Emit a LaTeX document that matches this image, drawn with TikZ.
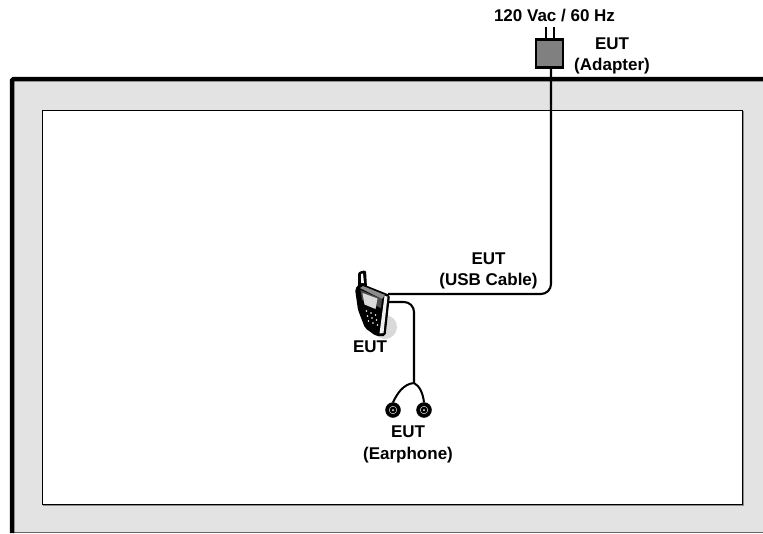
\documentclass[tikz,border=0pt]{standalone}
\usepackage{fontspec}
\setmainfont{Liberation Sans}
\usetikzlibrary{calc}
\tikzset{
 lbl/.style={font=\fontsize{17}{21.3}\selectfont\bfseries,align=center,inner sep=0pt,text=black},
 cable/.style={draw=black,line width=2.1pt,rounded corners=10pt},
 plug/.style={draw=black,line width=2.2pt,fill=black!50,minimum width=27pt,minimum height=28pt,inner sep=0pt},
 bud/.style={circle,draw=black,fill=black,minimum size=15pt,inner sep=0pt},
 thin wire/.style={draw=black,line width=1.4pt}
}
\begin{document}
\begin{tikzpicture}[x=1pt,y=-1pt]
\useasboundingbox (0,0) rectangle (763,533);
% room
\fill[black!11] (12,79) rectangle (763,531.5);
\fill[black!60] (12,531.5) rectangle (763,533);
\draw[line width=4.5pt,line cap=butt] (12,533) -- (12,81) [rounded corners=1.5pt] -- (12,79) -- (763,79);
\draw[fill=white,line width=1pt] (42,110) rectangle (742,504);
\draw[black!45,line width=1pt] (743,111) -- (743,505) -- (43,505);
% adapter
\node[plug] (adapter) at (549.5,53.5) {};
\coordinate (p1) at (546,27);
\coordinate (p2) at (554,27);
\draw[thin wire] (p1) -- (p1 |- adapter.north);
\draw[thin wire] (p2) -- (p2 |- adapter.north);
% phone
\fill[black!15] (385,327) circle (12);
\node[inner sep=0pt,minimum size=1pt] (phone) at (371,305) {};
\coordinate (usbout) at (388,294);
\coordinate (earout) at (388,302);
\fill[black,rounded corners=2.5pt] (358,288) -- (358,272) -- (366,270) -- (367,288) -- cycle;
\fill[white] (361,283) -- (361,274) -- (363,273.5) -- (364,283) -- cycle;
\fill[black,rounded corners=2pt] (355,289) -- (360,283) -- (390,295) -- (385.5,336) -- (376,336) -- (365,328) -- (358,310) -- cycle;
\fill[black!45] (360,288) -- (363,286) -- (385,295) -- (382,299) -- cycle;
\fill[black!6] (384.5,296) -- (387.5,296.5) -- (383.5,333) -- (379.5,333.5) -- cycle;
\fill[black!70] (360.5,290) -- (382,299) -- (381,308) -- (362,300) -- cycle;
\fill[black!15] (362.5,293) -- (377.5,298.5) -- (375.5,309) -- (364.5,304.5) -- cycle;
\foreach \a/\b in {366/310,370.5/312,375/314,367/315,371.5/317,376/319,368/320,372.5/322,377/324}
  \fill[white] (\a+.5,\b+1) circle (.9);
% cables
\draw[cable] (usbout) -- (551,294) -- (551,69);
\node[bud] (b1) at (393,410) {};
\node[bud] (b2) at (424,410) {};
\coordinate (fork) at (414,383);
\draw[cable] (earout) -- (414,302) -- (fork);
\draw[line width=2pt] (fork) .. controls (403,384) and (397,394) .. (b1.north);
\draw[line width=2pt] (fork) .. controls (420,386) and (423,394) .. (b2.north);
\foreach \n in {b1,b2}{
 \draw[white,line width=.4pt] (\n) circle (3.8);
 \fill[white] (\n) circle (1);
}
% labels
\node[lbl] (l0) at (554.5,16) {120 Vac / 60 Hz};
\node[lbl] (l1) at (612,56) {EUT\\(Adapter)};
\node[lbl] (l2) at (488.5,271) {EUT\\(USB Cable)};
\node[lbl] (l3) at (370,346.5) {EUT};
\node[lbl] (l4) at (408,444.5) {EUT\\(Earphone)};
\end{tikzpicture}
\end{document}
